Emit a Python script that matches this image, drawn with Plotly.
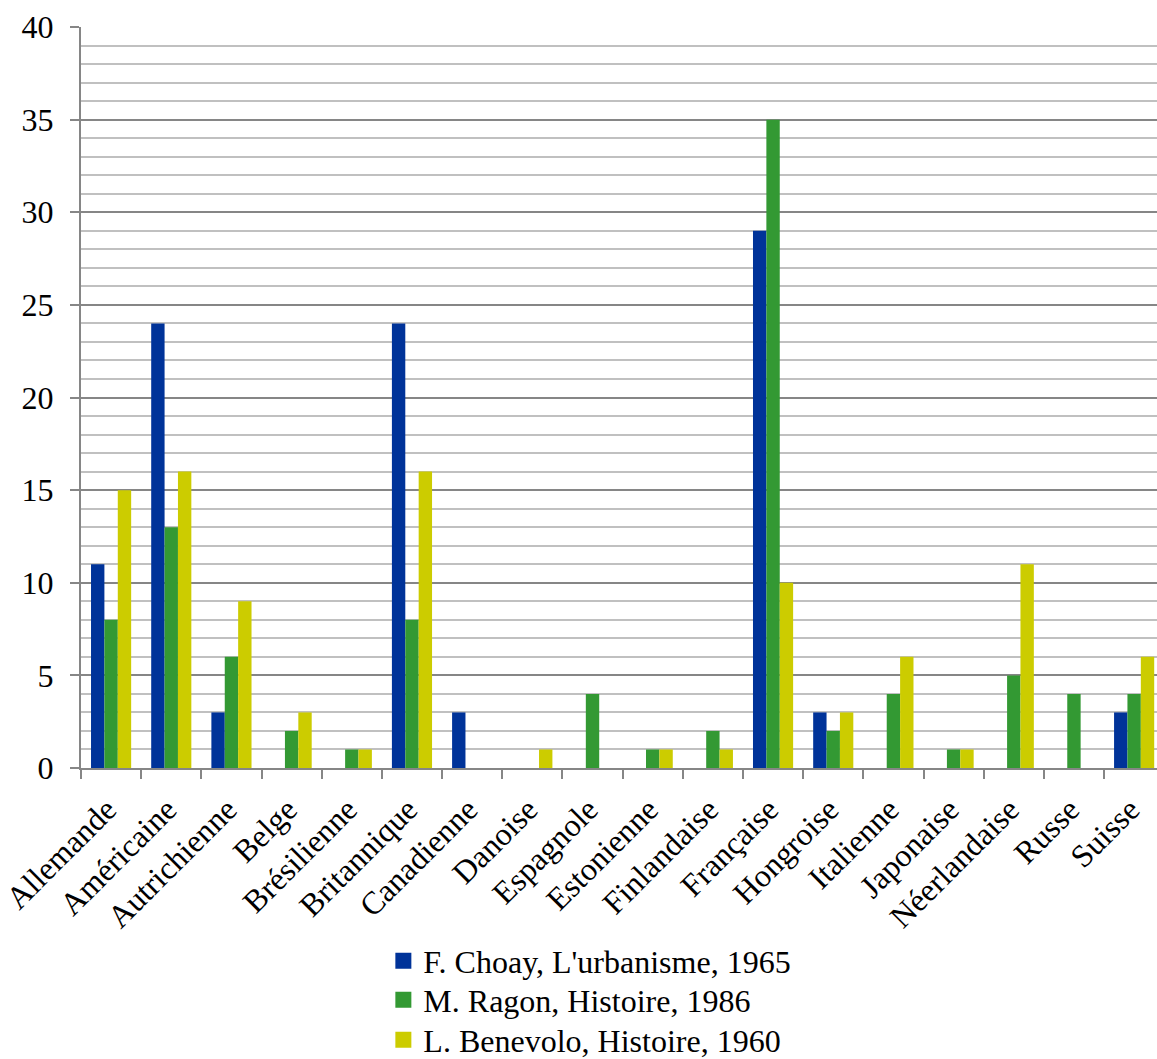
import plotly.graph_objects as go

categories = ["Allemande", "Américaine", "Autrichienne", "Belge", "Brésilienne",
              "Britannique", "Canadienne", "Danoise", "Espagnole", "Estonienne",
              "Finlandaise", "Française", "Hongroise", "Italienne", "Japonaise",
              "Néerlandaise", "Russe", "Suisse"]
choay = [11, 24, 3, 0, 0, 24, 3, 0, 0, 0, 0, 29, 3, 0, 0, 0, 0, 3]
ragon = [8, 13, 6, 2, 1, 8, 0, 0, 4, 1, 2, 35, 2, 4, 1, 5, 4, 4]
benevolo = [15, 16, 9, 3, 1, 16, 0, 1, 0, 1, 1, 10, 3, 6, 1, 11, 0, 6]

series_names = ["F. Choay, L'urbanisme, 1965", "M. Ragon, Histoire, 1986",
                "L. Benevolo, Histoire, 1960"]
series_values = [choay, ragon, benevolo]
colors = ["#003399", "#339933", "#CCCC00"]

FONT = "Liberation Serif"

fig = go.Figure()
for name, vals, col in zip(series_names, series_values, colors):
    fig.add_trace(go.Bar(x=categories, y=vals, name=name, showlegend=False,
                         marker=dict(color=col, line=dict(width=0))))
# legend entries with larger square swatches, one legend per row
legend_ids = ["legend", "legend2", "legend3"]
for name, col, lid in zip(series_names, colors, legend_ids):
    fig.add_trace(go.Scatter(x=[None], y=[None], mode="markers", name=name,
                             marker=dict(symbol="square", size=16, color=col,
                                         line=dict(width=0)),
                             showlegend=True, legend=lid))

leg_common = dict(orientation="v", x=0.281, xanchor="left", yanchor="middle",
                  font=dict(family=FONT, size=32, color="black"),
                  bgcolor="rgba(0,0,0,0)", borderwidth=0)

fig.update_layout(
    width=1157, height=1059,
    margin=dict(l=81, r=0, t=27, b=291, autoexpand=False),
    paper_bgcolor="white", plot_bgcolor="white",
    barmode="group", bargap=0.333, bargroupgap=0,
    font=dict(family=FONT, size=30, color="black"),
    showlegend=True,
    legend=dict(y=-0.2605, **leg_common),
    legend2=dict(y=-0.3131, **leg_common),
    legend3=dict(y=-0.3671, **leg_common),
)
fig.update_xaxes(
    type="category", range=[-0.5, 17.38], automargin=False,
    showline=True, linecolor="#868686", linewidth=2,
    ticks="outside", tickson="boundaries", ticklen=9, tickwidth=2, tickcolor="#868686",
    tickangle=-45, tickfont=dict(family=FONT, size=32, color="black"),
    ticklabelstandoff=8, ticklabelshift=-4,
    showgrid=False, zeroline=False,
)
fig.update_yaxes(
    range=[0, 40], dtick=5, tick0=0, automargin=False,
    showline=True, linecolor="#868686", linewidth=2,
    ticks="outside", ticklen=9, tickwidth=2, tickcolor="#868686",
    tickfont=dict(family=FONT, size=32, color="black"),
    ticklabelstandoff=10,
    showgrid=True, gridcolor="#868686", gridwidth=2,
    minor=dict(dtick=1, showgrid=True, gridcolor="#C0C0C0", gridwidth=2, ticks=""),
    zeroline=False,
)

fig.write_html("out.html")
